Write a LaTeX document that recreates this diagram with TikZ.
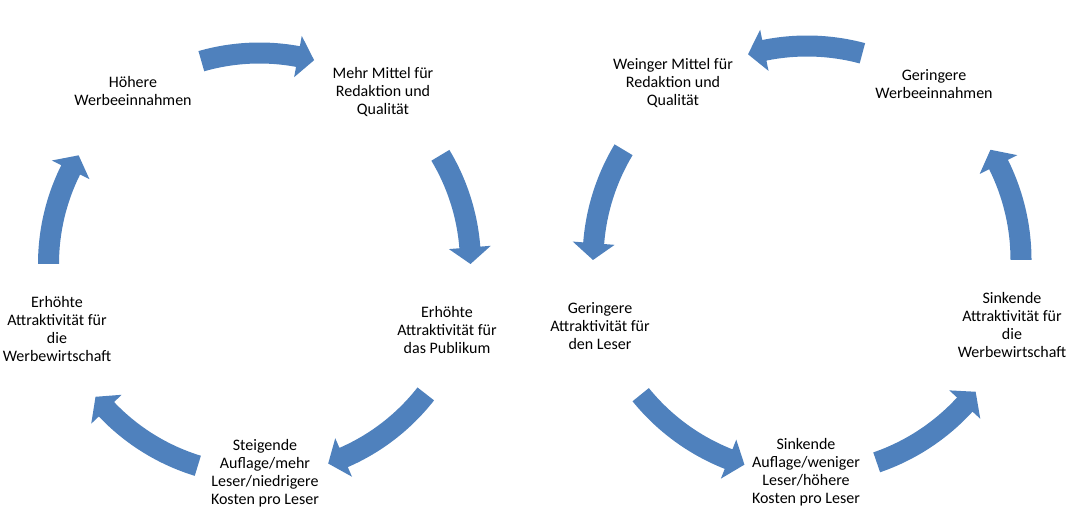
\documentclass[tikz,border=0pt]{standalone}
\usepackage{fontspec}
\setmainfont{Carlito}
\usetikzlibrary{calc}
\definecolor{cycleblue}{RGB}{79,129,189}

% thick curved block arrow round a cycle centre: centre, radius (px), tail angle, tip angle
\newcommand\cyclearrow[4]{%
  \pgfmathsetmacro\rmid{#2*0.75}%
  \pgfmathsetmacro\rout{(#2+10.5)*0.75}%
  \pgfmathsetmacro\rinn{(#2-10.5)*0.75}%
  \pgfmathsetmacro\hout{(#2+21)*0.75}%
  \pgfmathsetmacro\hinn{(#2-21)*0.75}%
  \pgfmathsetmacro\hbase{#4-sign(#4-#3)*4.5}%
  \fill[cycleblue] ($(#1)+(#3:\rout pt)$) arc[start angle=#3, end angle=\hbase, radius=\rout pt]
    -- ($(#1)+(\hbase:\hout pt)$) -- ($(#1)+(#4:\rmid pt)$) -- ($(#1)+(\hbase:\hinn pt)$)
    -- ($(#1)+(\hbase:\rinn pt)$) arc[start angle=\hbase, end angle=#3, radius=\rinn pt] -- cycle;
}

\begin{document}
\begin{tikzpicture}[
    x=0.75pt, y=0.75pt,
    label/.style={align=center, inner sep=0pt, font=\fontsize{12pt}{13.5pt}\selectfont}
]
\useasboundingbox (0,0) rectangle (1074,-509);

% --- Cycle centres ---
\coordinate (lc) at (259.5,-264);
\coordinate (rc) at (807,-260);

% --- Nodes ---
% Left cycle (upward spiral)
\node (hoehere) at (133,-91) [label] {Höhere\\Werbeeinnahmen};
\node (mehrmittel) at (383,-92) [label] {Mehr Mittel für\\Redaktion und\\Qualität};
\node (publikum) at (447,-330) [label] {Erhöhte\\Attraktivität für\\das Publikum};
\node (steigende) at (265,-473) [label] {Steigende\\Auflage/mehr\\Leser/niedrigere\\Kosten pro Leser};
\node (werbwirt) at (57,-329) [label] {Erhöhte\\Attraktivität für\\die\\Werbewirtschaft};

% Right cycle (downward spiral)
\node (geringwerb) at (934,-84) [label] {Geringere\\Werbeeinnahmen};
\node (wenigmittel) at (673,-83) [label] {Weinger Mittel für\\Redaktion und\\Qualität};
\node (leser) at (600,-326) [label] {Geringere\\Attraktivität für\\den Leser};
\node (sinkauflage) at (806,-472) [label] {Sinkende\\Auflage/weniger\\Leser/höhere\\Kosten pro Leser};
\node (sinkwerb) at (1012,-325) [label] {Sinkende\\Attraktivität für\\die\\Werbewirtschaft};

% --- Arrows ---
\foreach \sa/\ea in {106/75, 31/0, -38/-71, -107/-141, 180/149}
  {\cyclearrow{lc}{211}{\sa}{\ea}}
\foreach \sa/\ea in {75/106, 149/180, -141/-107, -71/-38, 0/31}
  {\cyclearrow{rc}{214}{\sa}{\ea}}

\end{tikzpicture}
\end{document}
